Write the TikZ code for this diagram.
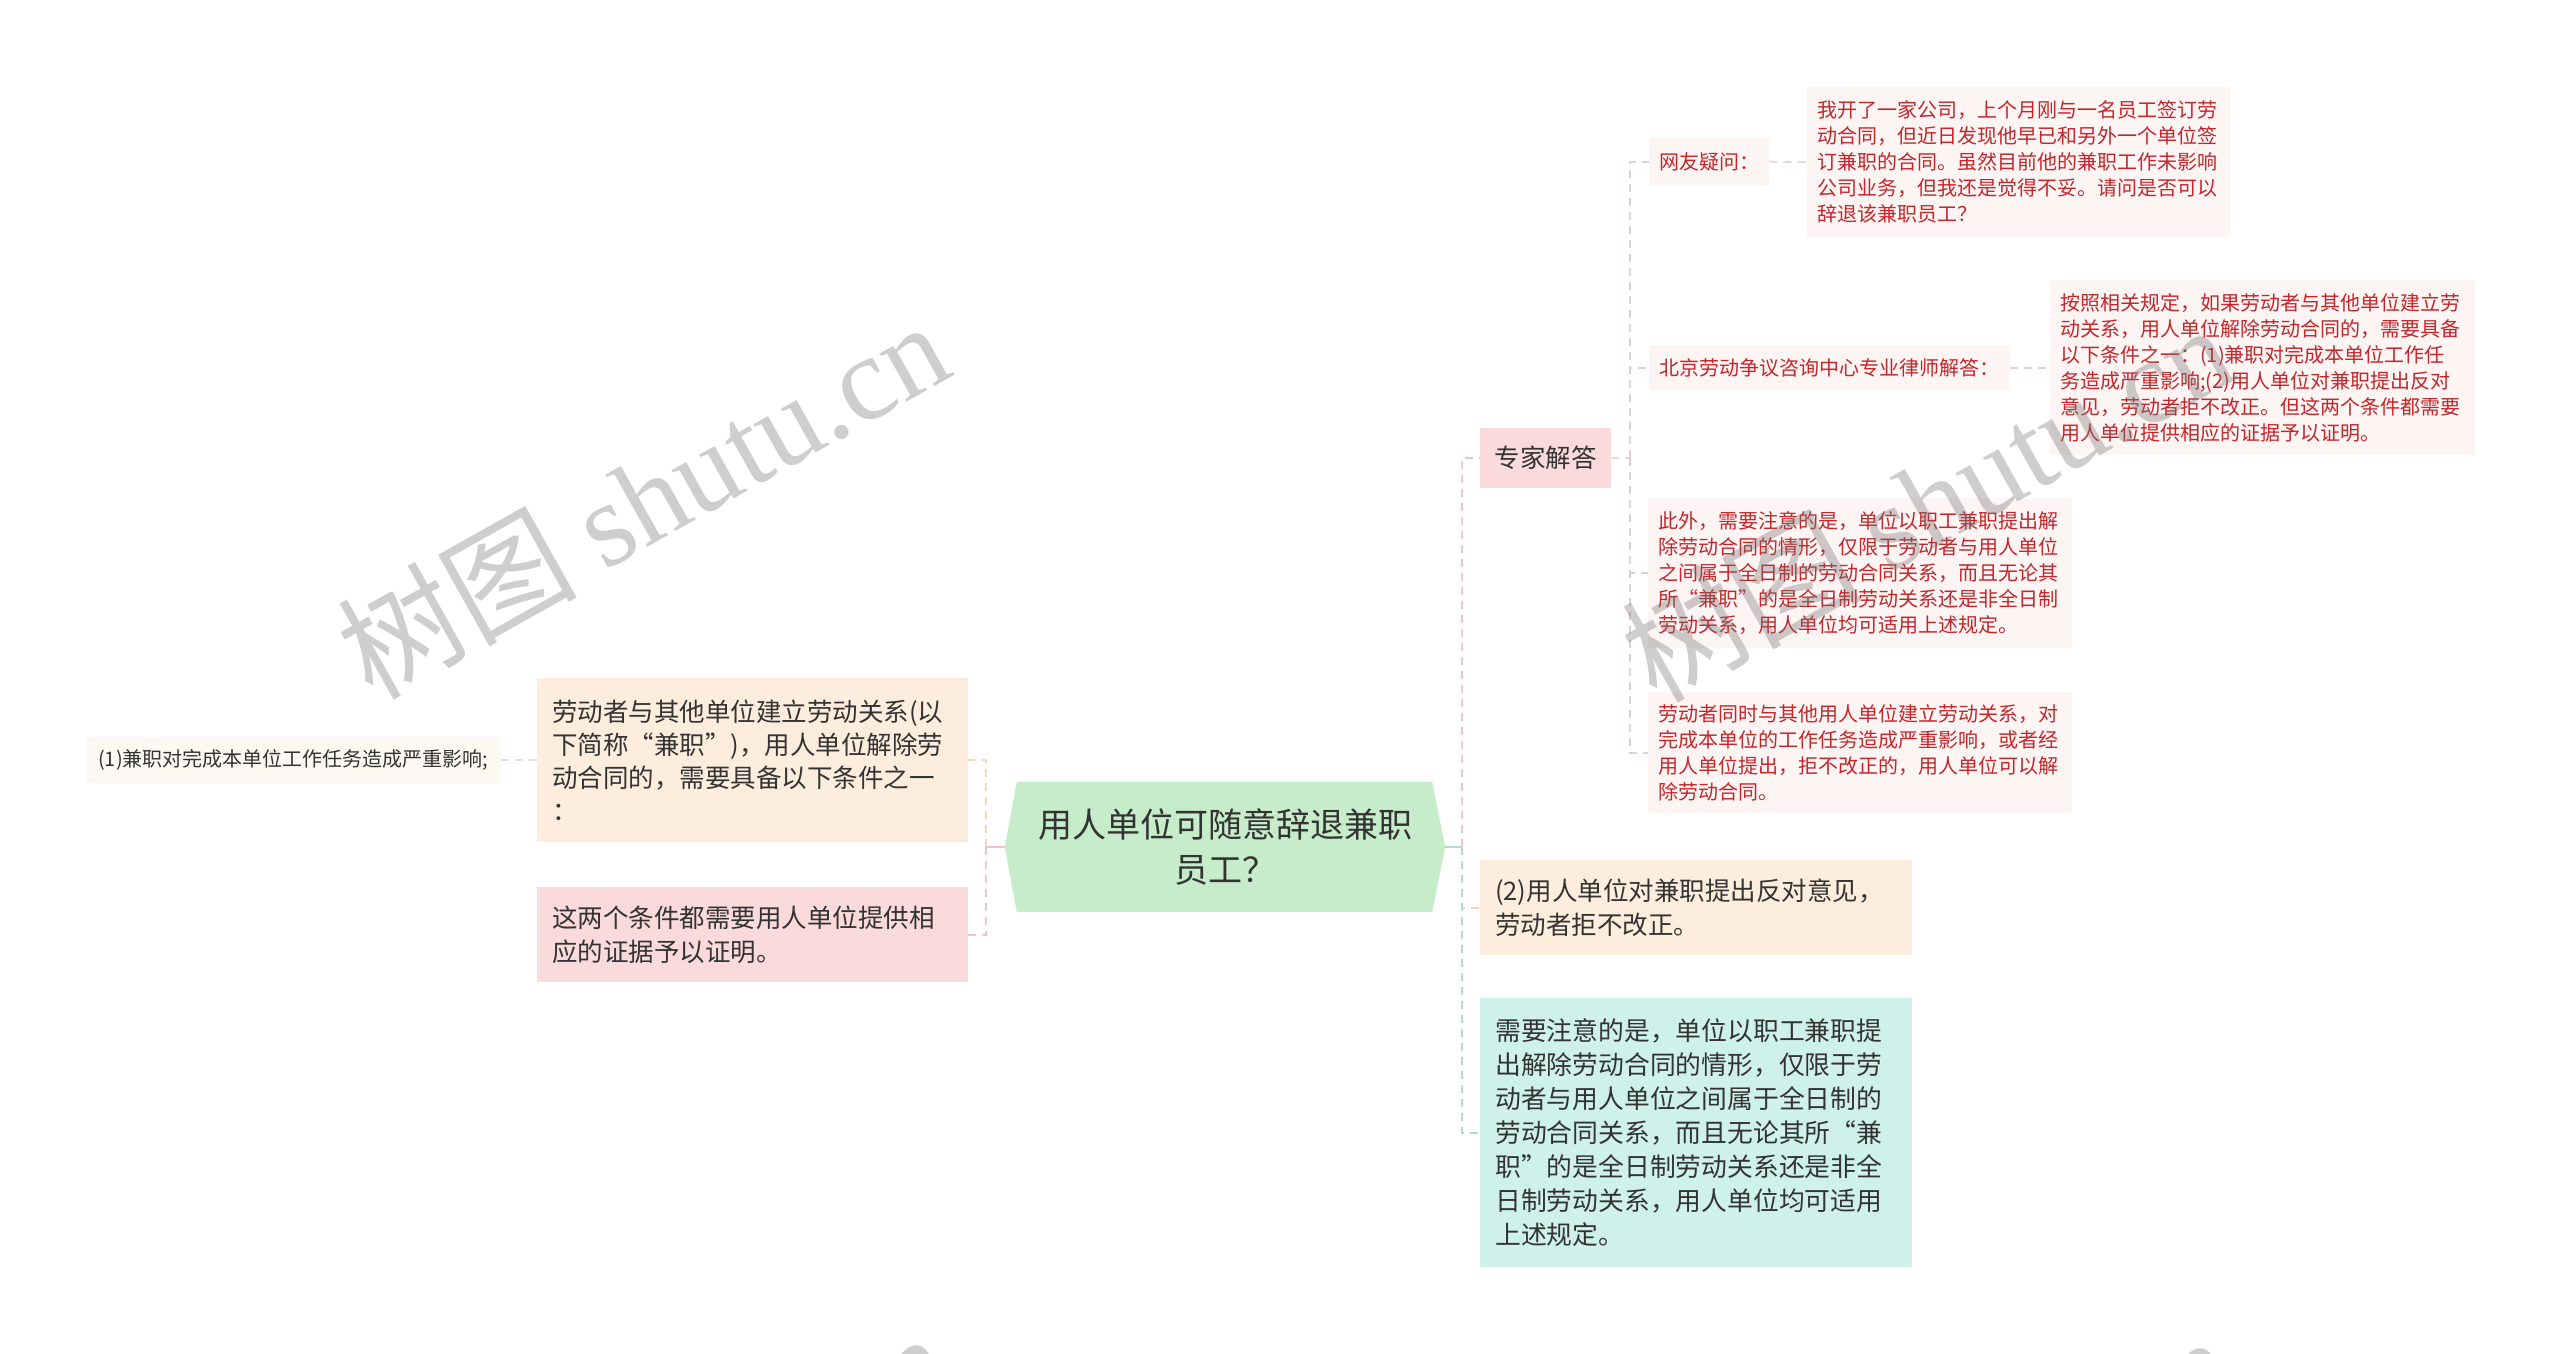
\documentclass[tikz,border=0pt]{standalone}
\usepackage{fontspec}
\setmainfont{Noto Sans CJK SC}
\newfontfamily\wmserif{Liberation Serif}
\usetikzlibrary{backgrounds}
\definecolor{rootfill}{RGB}{198,236,201}
\definecolor{peach}{RGB}{253,237,220}
\definecolor{pinkf}{RGB}{250,218,219}
\definecolor{tealf}{RGB}{206,241,233}
\definecolor{blush}{RGB}{253,244,244}
\definecolor{cream}{RGB}{252,249,243}
\definecolor{txt}{RGB}{51,51,51}
\definecolor{redtxt}{RGB}{196,38,42}
\definecolor{lnpink}{RGB}{242,196,200}
\definecolor{lnpeach}{RGB}{246,214,190}
\definecolor{lnteal}{RGB}{172,222,214}
\definecolor{lngray}{RGB}{228,208,208}
\definecolor{lnlgray}{RGB}{222,222,222}
\tikzset{
  box/.style={rectangle, anchor=north west, inner ysep=0pt, align=left, text=txt},
  fone/.style={font=\fontsize{25.5}{33.3}\selectfont},
  ftwo/.style={font=\fontsize{20}{26}\selectfont},
  subbox/.style={box, ftwo, fill=blush, text=redtxt, inner xsep=10pt},
  link/.style={line width=2pt, dash pattern=on 8pt off 6pt},
  sublink/.style={line width=1.6pt, dash pattern=on 8pt off 6pt, lngray},
  stem/.style={line width=2pt},
  wmark/.style={rotate=29.3, anchor=base west, font=\fontsize{120}{120}\selectfont, text=black!55, opacity=0.35, inner sep=0pt}
}
\begin{document}
\begin{tikzpicture}[x=1pt, y=-1pt]
\useasboundingbox (0,0) rectangle (2560,1353);

% root
\node[rectangle, minimum width=440pt, minimum height=130pt, align=center,
      font=\fontsize{34}{45}\selectfont, text=txt, inner sep=0pt] (root) at (1225,847)
      {用人单位可随意辞退兼职\\员工？};
\begin{scope}[on background layer]
  \fill[white] (0,0) rectangle (2560,1353);
  \fill[rootfill] (root.west) -- ([xshift=12pt]root.north west) -- ([xshift=-13pt]root.north east)
     -- (root.east) -- ([xshift=-13pt]root.south east) -- ([xshift=12pt]root.south west) -- cycle;
\end{scope}

% left branch
\node[box, fone, fill=peach, inner xsep=15pt, text width=401pt, minimum height=164pt] (cond) at (537,678)
  {劳动者与其他单位建立劳动关系(以\\下简称“兼职”)，用人单位解除劳\\动合同的，需要具备以下条件之一\\：};
\node[box, fone, fill=pinkf, inner xsep=15pt, text width=401pt, minimum height=95pt] (proof) at (537,887)
  {这两个条件都需要用人单位提供相\\应的证据予以证明。};
\node[box, ftwo, fill=cream, inner xsep=11pt, text width=391pt, minimum height=46pt] (c1) at (87,737)
  {(1)兼职对完成本单位工作任务造成严重影响;};

% right branch
\node[box, fone, fill=pinkf, inner xsep=14.5pt, text width=102pt, minimum height=60pt] (expert) at (1480,428)
  {专家解答};
\node[box, fone, fill=peach, inner xsep=15pt, text width=402pt, minimum height=95pt] (p2) at (1480,860)
  {(2)用人单位对兼职提出反对意见，\\劳动者拒不改正。};
\node[box, font=\fontsize{25.8}{34}\selectfont, fill=tealf, inner xsep=15pt, text width=402pt, minimum height=269pt] (note) at (1480,998)
  {需要注意的是，单位以职工兼职提\\出解除劳动合同的情形，仅限于劳\\动者与用人单位之间属于全日制的\\劳动合同关系，而且无论其所“兼\\职”的是全日制劳动关系还是非全\\日制劳动关系，用人单位均可适用\\上述规定。};

% expert children
\node[subbox, text width=100pt, minimum height=47pt] (qlab) at (1649,138) {网友疑问：};
\node[subbox, text width=404pt, minimum height=150pt] (qtxt) at (1807,87)
  {我开了一家公司，上个月刚与一名员工签订劳\\动合同，但近日发现他早已和另外一个单位签\\订兼职的合同。虽然目前他的兼职工作未影响\\公司业务，但我还是觉得不妥。请问是否可以\\辞退该兼职员工？};
\node[subbox, text width=341pt, minimum height=45pt] (alab) at (1649,345) {北京劳动争议咨询中心专业律师解答：};
\node[subbox, text width=405pt, minimum height=175pt] (atxt) at (2050,280)
  {按照相关规定，如果劳动者与其他单位建立劳\\动关系，用人单位解除劳动合同的，需要具备\\以下条件之一：(1)兼职对完成本单位工作任\\务造成严重影响;(2)用人单位对兼职提出反对\\意见，劳动者拒不改正。但这两个条件都需要\\用人单位提供相应的证据予以证明。};
\node[subbox, text width=404pt, minimum height=150pt] (extra) at (1648,498)
  {此外，需要注意的是，单位以职工兼职提出解\\除劳动合同的情形，仅限于劳动者与用人单位\\之间属于全日制的劳动合同关系，而且无论其\\所“兼职”的是全日制劳动关系还是非全日制\\劳动关系，用人单位均可适用上述规定。};
\node[subbox, text width=404pt, minimum height=121pt] (same) at (1648,692)
  {劳动者同时与其他用人单位建立劳动关系，对\\完成本单位的工作任务造成严重影响，或者经\\用人单位提出，拒不改正的，用人单位可以解\\除劳动合同。};

% junctions
\coordinate (jl) at (986,847);
\coordinate (jr) at (1462,847);
\coordinate (je) at (1630,458);

% left connectors
\draw[stem, lnpink] (root.west) -- (jl);
\draw[link, lnpeach] (jl) |- (cond.east);
\draw[link, lnpink] (jl) |- (proof.east);
\draw[link, line width=1.6pt, lnlgray] (cond.west) -- (c1.east);

% right connectors
\draw[stem, lnteal] (root.east) -- (jr);
\draw[link, lnpink] (jr) |- (expert.west);
\draw[link, lnpeach] (jr) |- (p2.west);
\draw[link, lnteal] (jr) |- (note.west);

% expert connectors
\draw[sublink] (expert.east) -- (je);
\draw[sublink] (je) |- (qlab.west);
\draw[sublink] (je) |- (alab.west);
\draw[sublink] (je) |- (extra.west);
\draw[sublink] (je) |- (same.west);
\draw[sublink] (qlab.east) -- (qtxt.west);
\draw[sublink] (alab.east) -- (atxt.west);

% watermarks
\node[wmark] (wm1) at (372,702) {树图 {\wmserif shutu.cn}};
\node[wmark] (wm2) at (1656,705) {树图 {\wmserif shutu.cn}};
\node[wmark] (wm3) at (372,1714) {树图 {\wmserif shutu.cn}};
\node[wmark] (wm4) at (1656,1717) {树图 {\wmserif shutu.cn}};
\end{tikzpicture}
\end{document}
